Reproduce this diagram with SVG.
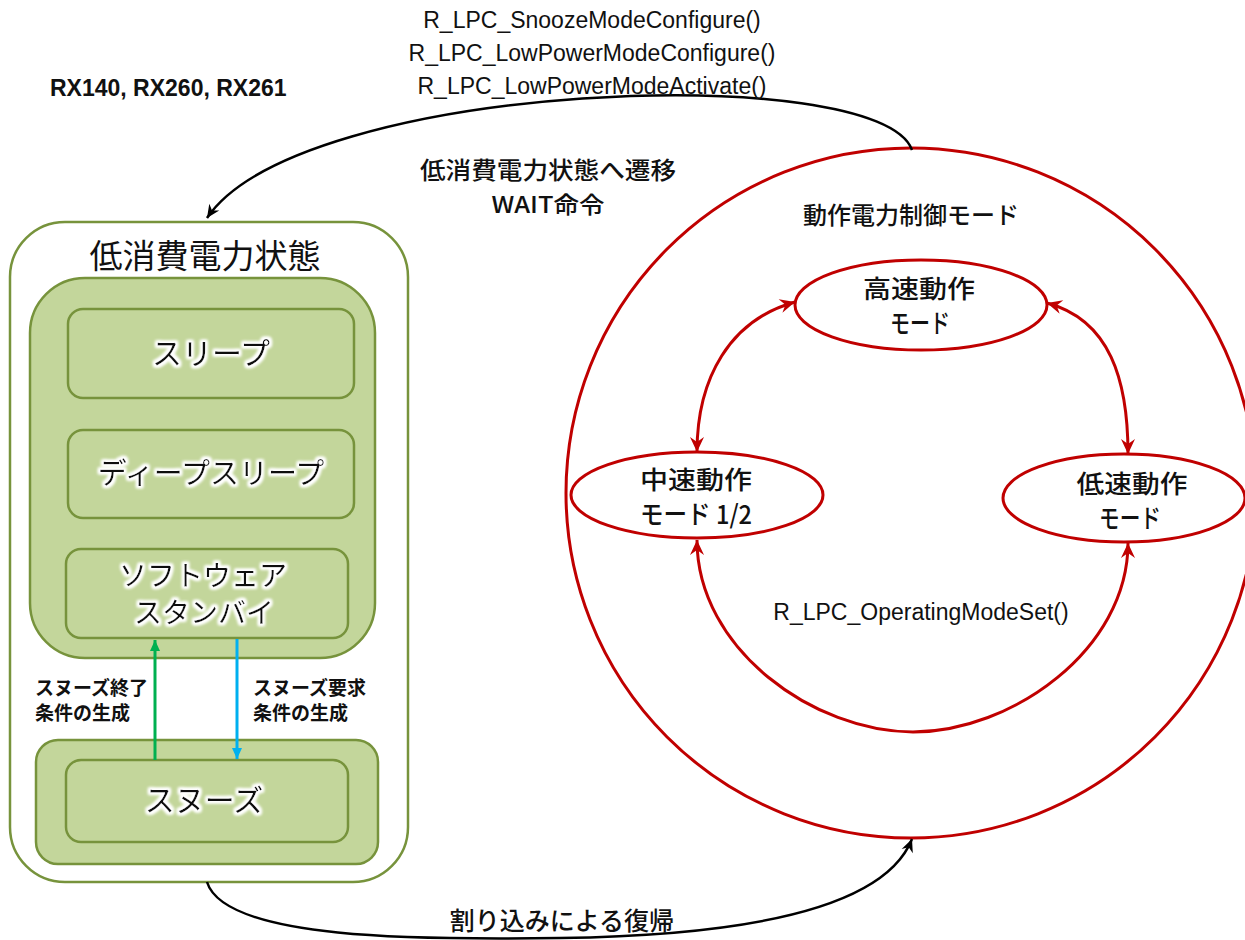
<svg xmlns="http://www.w3.org/2000/svg" width="1245" height="940" viewBox="0 0 1245 940">
<style>
.lat{font-family:"Liberation Sans",Arial,sans-serif;fill:#111}
.jp{font-family:"Noto Sans CJK JP","Noto Sans",sans-serif;fill:#111}
.box{fill:#C3D69B;stroke:#77933C;stroke-width:2.5}
.red{fill:none;stroke:#C00000;stroke-width:3}
.blk{fill:none;stroke:#000;stroke-width:2.5}
.md{font-weight:500}
</style>
<defs>
<marker id="mr" viewBox="-16 -8 17 16" refX="0" refY="0" markerWidth="17" markerHeight="16" markerUnits="userSpaceOnUse" orient="auto-start-reverse">
<path d="M0,0 L-15,-7 L-10,0 L-15,7 Z" fill="#C00000"/>
</marker>
<marker id="mb" viewBox="-14 -7 15 14" refX="0" refY="0" markerWidth="15" markerHeight="14" markerUnits="userSpaceOnUse" orient="auto">
<path d="M0,0 L-13,-6 L-9,0 L-13,6 Z" fill="#000"/>
</marker>
<marker id="mg" viewBox="-12 -6 13 12" refX="0" refY="0" markerWidth="13" markerHeight="12" markerUnits="userSpaceOnUse" orient="auto">
<path d="M0,0 L-11,-5 L-11,5 Z" fill="#00B050"/>
</marker>
<marker id="mc" viewBox="-12 -6 13 12" refX="0" refY="0" markerWidth="13" markerHeight="12" markerUnits="userSpaceOnUse" orient="auto">
<path d="M0,0 L-11,-5 L-11,5 Z" fill="#00B0F0"/>
</marker>
<filter id="glow" x="-20%" y="-30%" width="140%" height="160%">
<feMorphology in="SourceAlpha" operator="dilate" radius="1.5" result="d"/>
<feGaussianBlur in="d" stdDeviation="1.5" result="b"/>
<feFlood flood-color="#fff"/>
<feComposite in2="b" operator="in" result="w"/>
<feMerge><feMergeNode in="w"/><feMergeNode in="w"/><feMergeNode in="SourceGraphic"/></feMerge>
</filter>
</defs>
<rect width="1245" height="940" fill="#fff"/>

<text class="lat" x="50" y="96" font-size="23" font-weight="bold">RX140, RX260, RX261</text>

<g id="low-power-state">
<rect x="10" y="222" width="398" height="660" rx="55" fill="#fff" stroke="#77933C" stroke-width="2.5"/>
<text class="jp" x="205" y="268" font-size="33" text-anchor="middle">低消費電力状態</text>
<rect class="box" x="30" y="278" width="345" height="380" rx="55"/>
<rect class="box" x="36" y="740" width="342" height="124" rx="22"/>
</g>
<g id="sleep">
<rect class="box" x="68" y="309" width="286" height="89" rx="15"/>
<text class="jp" x="211" y="364" font-size="30" text-anchor="middle" filter="url(#glow)">スリープ</text>
</g>
<g id="deep-sleep">
<rect class="box" x="68" y="430" width="286" height="88" rx="15"/>
<text class="jp" x="211" y="484" font-size="29" text-anchor="middle" filter="url(#glow)">ディープスリープ</text>
</g>
<g id="software-standby">
<rect class="box" x="66" y="549" width="282" height="89" rx="15"/>
<text class="jp" x="203" y="586" font-size="28" text-anchor="middle" filter="url(#glow)">ソフトウェア</text>
<text class="jp" x="204" y="623" font-size="28" text-anchor="middle" filter="url(#glow)">スタンバイ</text>
</g>
<g id="snooze">
<rect class="box" x="66" y="760" width="282" height="82" rx="15"/>
<text class="jp" x="204" y="811" font-size="30" text-anchor="middle" filter="url(#glow)">スヌーズ</text>
</g>

<g id="operating-mode">
<circle cx="911" cy="493" r="345" fill="none" stroke="#C00000" stroke-width="3"/>
<text class="jp md" x="911" y="224" font-size="24" text-anchor="middle">動作電力制御モード</text>
</g>
<g id="high-speed">
<ellipse class="red" cx="921" cy="305" rx="126" ry="45" fill="#fff"/>
<text class="jp md" x="919" y="298" font-size="25" text-anchor="middle" textLength="112" lengthAdjust="spacingAndGlyphs">高速動作</text>
<text class="jp md" x="920" y="333" font-size="26" text-anchor="middle" textLength="60" lengthAdjust="spacingAndGlyphs">モード</text>
</g>
<g id="mid-speed">
<ellipse class="red" cx="697" cy="495" rx="126" ry="43" fill="#fff"/>
<text class="jp md" x="696" y="489" font-size="25" text-anchor="middle" textLength="112" lengthAdjust="spacingAndGlyphs">中速動作</text>
<text class="jp md" x="696" y="524" font-size="26" text-anchor="middle" textLength="112" lengthAdjust="spacingAndGlyphs">モード 1/2</text>
</g>
<g id="low-speed">
<ellipse class="red" cx="1124" cy="498" rx="121" ry="44" fill="#fff"/>
<text class="jp md" x="1132" y="493" font-size="25" text-anchor="middle" textLength="111" lengthAdjust="spacingAndGlyphs">低速動作</text>
<text class="jp md" x="1130" y="528" font-size="26" text-anchor="middle" textLength="62" lengthAdjust="spacingAndGlyphs">モード</text>
</g>

<g id="connectors">
<path class="red" d="M697 452 C697 378 730 320 795 302" marker-start="url(#mr)" marker-end="url(#mr)"/>
<path class="red" d="M1047 303 C1110 320 1128 380 1128 454" marker-start="url(#mr)" marker-end="url(#mr)"/>
<path class="red" d="M697 540 C697 650 815 732 913 732 C1011 732 1128 650 1128 543" marker-start="url(#mr)" marker-end="url(#mr)"/>
<path class="blk" d="M912 150 C880 60 300 80 207 218" marker-end="url(#mb)"/>
<path class="blk" d="M207 882 C225 940 420 940 560 938 C700 936 880 920 912 839" marker-end="url(#mb)"/>
<line x1="155" y1="760" x2="155" y2="640" stroke="#00B050" stroke-width="3" marker-end="url(#mg)"/>
<line x1="237" y1="639" x2="237" y2="759" stroke="#00B0F0" stroke-width="3" marker-end="url(#mc)"/>
</g>

<g id="labels">
<text class="lat" x="592" y="28" font-size="23" text-anchor="middle">R_LPC_SnoozeModeConfigure()</text>
<text class="lat" x="592" y="61" font-size="23" text-anchor="middle">R_LPC_LowPowerModeConfigure()</text>
<text class="lat" x="592" y="94" font-size="23" text-anchor="middle">R_LPC_LowPowerModeActivate()</text>
<text class="jp md" x="548" y="179" font-size="24" text-anchor="middle" textLength="256" lengthAdjust="spacingAndGlyphs">低消費電力状態へ遷移</text>
<text class="jp md" x="548" y="213" font-size="23" text-anchor="middle" textLength="113" lengthAdjust="spacingAndGlyphs">WAIT命令</text>
<text class="lat" x="921" y="620" font-size="23" text-anchor="middle">R_LPC_OperatingModeSet()</text>
<text class="jp md" x="562" y="930" font-size="25" text-anchor="middle">割り込みによる復帰</text>
<text class="jp" x="35" y="695" font-size="19" font-weight="bold">スヌーズ終了</text>
<text class="jp" x="35" y="720" font-size="19" font-weight="bold">条件の生成</text>
<text class="jp" x="253" y="695" font-size="19" font-weight="bold">スヌーズ要求</text>
<text class="jp" x="253" y="720" font-size="19" font-weight="bold">条件の生成</text>
</g>
</svg>
